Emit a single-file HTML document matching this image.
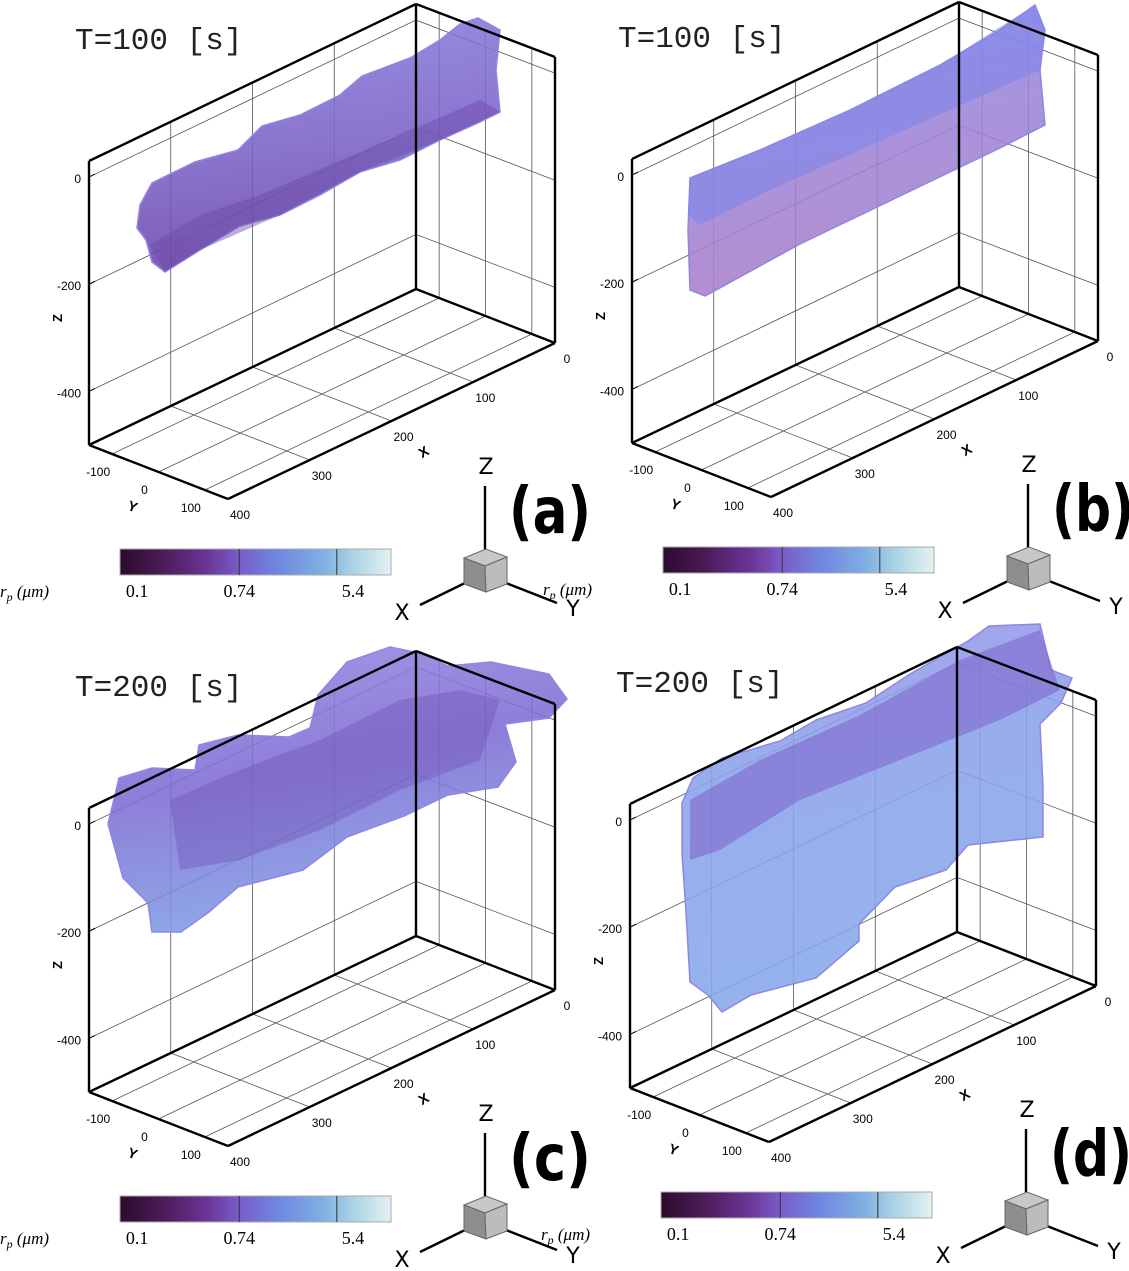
<!DOCTYPE html>
<html><head><meta charset="utf-8">
<style>
html,body{margin:0;padding:0;background:#fff;}
svg{display:block;font-family:"Liberation Sans","DejaVu Sans",sans-serif;}
</style></head>
<body>
<svg id="fig" width="1129" height="1271" viewBox="0 0 1129 1271" xmlns="http://www.w3.org/2000/svg">
<defs>
<linearGradient id="cbar" x1="0" x2="1" y1="0" y2="0">
<stop offset="0" stop-color="#2b0c2c"/>
<stop offset="0.15" stop-color="#4a1a55"/>
<stop offset="0.32" stop-color="#6a3596"/>
<stop offset="0.44" stop-color="#7a5cc8"/>
<stop offset="0.58" stop-color="#6f86e0"/>
<stop offset="0.75" stop-color="#7fb0e2"/>
<stop offset="0.86" stop-color="#aad3e4"/>
<stop offset="1" stop-color="#e4f2f2"/>
</linearGradient>
<linearGradient id="tubeA" x1="0" y1="0" x2="0.15" y2="1">
<stop offset="0" stop-color="#8a7ee0"/>
<stop offset="0.55" stop-color="#7a62c8"/>
<stop offset="1" stop-color="#6a44a8"/>
</linearGradient>
<linearGradient id="slabB" x1="0" y1="0" x2="0.2" y2="1">
<stop offset="0" stop-color="#8890ea"/>
<stop offset="0.35" stop-color="#9a86dc"/>
<stop offset="1" stop-color="#a87fc8"/>
</linearGradient>
<linearGradient id="blobC" x1="0" y1="0" x2="0.3" y2="1">
<stop offset="0" stop-color="#9a8ae6"/>
<stop offset="0.5" stop-color="#7e6cd2"/>
<stop offset="1" stop-color="#7f9ee6"/>
</linearGradient>
<linearGradient id="blobD" x1="0" y1="0" x2="0.2" y2="1">
<stop offset="0" stop-color="#9a94e8"/>
<stop offset="0.4" stop-color="#8aa2ea"/>
<stop offset="1" stop-color="#86a8ea"/>
</linearGradient>
</defs>
</svg>
<script>
// ---- data ----
const xTicks = [0, 100, 200, 300, 400];
const yTicks = [-100, 0, 100];
const zTicks = [0, -200, -400];
const xRange = [0, 400];
const yRange = [-150, 150];
const zRange = [-500, 30];
const cbarLabels = ["0.1", "0.74", "5.4"];
const cbarFrac = [0.03, 0.44, 0.86];
const cbarDividers = [0.44, 0.80];
const panelNames = ["a", "b", "c", "d"];
const panelTimes = ["T=100 [s]", "T=100 [s]", "T=200 [s]", "T=200 [s]"];
const panelOffsetX = [0, 543, 0, 541];
const panelOffsetY = [0, -2, 647, 643];

const NS = "http://www.w3.org/2000/svg";
const svg = document.getElementById("fig");
function el(tag, attrs, parent) {
  const e = document.createElementNS(NS, tag);
  for (const k in attrs) e.setAttribute(k, attrs[k]);
  (parent || svg).appendChild(e);
  return e;
}
const P = {A:[89,161],B:[416,4],C:[555,57],D:[89,445],E:[416,289],F:[555,343],G:[228,499]};
function lerp(p, q, t) { return [p[0] + (q[0]-p[0])*t, p[1] + (q[1]-p[1])*t]; }
const zScale = (P.D[1]-P.A[1])/(zRange[1]-zRange[0]);
function zY(z) { return (zRange[1]-z)*zScale; }
function xT(x) { return (x - xRange[0])/(xRange[1]-xRange[0]); }
function yT(y) { return (y - yRange[0])/(yRange[1]-yRange[0]); }

const blobs = [
  {fill:"url(#tubeA)", pts:[[140,205],[152,183],[195,162],[238,150],[262,126],[300,115],[340,95],[362,76],[410,58],[440,40],[460,24],[478,18],[500,30],[496,70],[500,112],[480,122],[440,140],[400,160],[360,172],[320,195],[280,215],[240,226],[200,250],[165,272],[152,262],[146,240],[137,228]]},
  {fill:"url(#slabB)", pts:[[690,178],[760,150],[850,110],[940,65],[1000,30],[1035,5],[1045,30],[1040,70],[1045,125],[1000,148],[900,196],[800,244],[705,296],[690,290],[688,230]]},
  {fill:"url(#blobC)", pts:[[108,824],[119,778],[152,768],[195,770],[199,745],[238,735],[289,737],[310,728],[318,695],[347,662],[390,647],[419,653],[448,666],[491,662],[549,674],[567,699],[549,718],[505,724],[516,762],[498,787],[448,795],[404,816],[347,837],[303,870],[238,887],[209,912],[181,932],[152,932],[148,903],[123,878]]},
  {fill:"url(#blobD)", pts:[[682,803],[693,778],[722,758],[780,741],[816,720],[866,703],[910,674],[968,641],[989,626],[1040,624],[1051,670],[1072,678],[1061,703],[1040,724],[1043,787],[1043,837],[968,845],[946,870],[895,887],[859,924],[859,941],[816,978],[751,995],[722,1012],[708,995],[690,982],[686,912],[682,853]]}
];
const overlays = [
  {fill:"#6a4aa8", op:0.45, pts:[[150,245],[200,215],[260,195],[330,165],[400,135],[480,100],[500,112],[440,140],[360,172],[280,215],[200,250],[165,272]]},
  {fill:"#7f86ea", op:0.6, pts:[[690,178],[760,150],[850,110],[940,65],[1035,5],[1045,30],[1040,70],[950,110],[860,150],[770,190],[700,225],[688,215]]},
  {fill:"#6a4ab0", op:0.35, pts:[[170,800],[240,770],[320,740],[400,700],[460,690],[500,700],[480,760],[400,790],[320,830],[240,860],[180,870]]},
  {fill:"#7e60cc", op:0.55, pts:[[690,800],[760,760],[860,715],[960,660],[1040,630],[1060,690],[1000,720],[900,760],[800,800],[720,850],[690,860]]}
];

panelNames.forEach((name, i) => {
  const g = el("g", {transform:`translate(${panelOffsetX[i]},${panelOffsetY[i]})`});
  
  
  const thin = {stroke:"#555", "stroke-width":0.8, fill:"none"};
  xTicks.slice(1, -1).forEach(x => {
    const t = xT(x);
    const top = lerp(P.B, P.A, t), bot = lerp(P.E, P.D, t);
    const gl = el("line", Object.assign({x1:top[0],y1:top[1],x2:bot[0],y2:bot[1]}, thin), g);
    
    
    const fb = lerp(P.F, P.G, t);
    const gf = el("line", Object.assign({x1:bot[0],y1:bot[1],x2:fb[0],y2:fb[1]}, thin), g);
    
    
  });
  yTicks.forEach(y => {
    const t = yT(y);
    const top = lerp(P.B, P.C, t), bot = lerp(P.E, P.F, t);
    const gl = el("line", Object.assign({x1:top[0],y1:top[1],x2:bot[0],y2:bot[1]}, thin), g);
    
    
    const fl = lerp(P.D, P.G, t);
    const gf = el("line", Object.assign({x1:bot[0],y1:bot[1],x2:fl[0],y2:fl[1]}, thin), g);
    
    
  });
  zTicks.forEach(z => {
    const dy = zY(z);
    const gl = el("polyline", Object.assign({points:`${P.A[0]},${P.A[1]+dy} ${P.B[0]},${P.B[1]+dy} ${P.C[0]},${P.C[1]+dy}`}, thin), g);
    
    
    const lb = el("text", {x:P.A[0]-8, y:P.A[1]+dy+6, "text-anchor":"end", "font-size":12, fill:"#000"}, g);
    lb.textContent = z;
    
    
    el("line", {x1:P.A[0], y1:P.A[1]+dy, x2:P.A[0]+6, y2:P.A[1]+dy-3, stroke:"#000"}, g);
  });
  const b = blobs[i];
  const bp = el("polygon", {points:b.pts.map(p => `${p[0]-panelOffsetX[i]},${p[1]-panelOffsetY[i]}`).join(" "), fill:b.fill, "fill-opacity":0.88, stroke:"#8f86e4", "stroke-width":1.5}, g);
  
  
  const o = overlays[i];
  const op = el("polygon", {points:o.pts.map(p => `${p[0]-panelOffsetX[i]},${p[1]-panelOffsetY[i]}`).join(" "), fill:o.fill, "fill-opacity":o.op}, g);
  
  
  const thick = {stroke:"#000", "stroke-width":2.4, fill:"none"};
  [["A","B"],["B","C"],["A","D"],["B","E"],["C","F"],["D","E"],["E","F"],["D","G"],["G","F"]].forEach(([p, q]) => {
    const e = el("line", Object.assign({x1:P[p][0],y1:P[p][1],x2:P[q][0],y2:P[q][1]}, thick), g);
    
    
  });
  xTicks.forEach(x => {
    const p = lerp(P.F, P.G, xT(x));
    const t = el("text", {x:p[0]+12, y:p[1]+20, "text-anchor":"middle", "font-size":12}, g);
    t.textContent = x;
    
    
  });
  yTicks.forEach(y => {
    const p = lerp(P.D, P.G, yT(y));
    const t = el("text", {x:p[0]-14, y:p[1]+22, "text-anchor":"middle", "font-size":12}, g);
    t.textContent = y;
    
    
  });
  const zt = el("text", {x:62, y:318, "font-size":13, "font-weight":"bold", transform:"rotate(-90 62 318)", "text-anchor":"middle"}, g);
  zt.textContent = "Z";
  
  
  const xt = el("text", {x:426, y:456, "font-size":14, "font-weight":"bold", transform:"rotate(-30 426 456)", "text-anchor":"middle"}, g);
  xt.textContent = "X";
  
  
  const yt = el("text", {x:131, y:511, "font-size":14, "font-weight":"bold", transform:"rotate(20 131 511)", "text-anchor":"middle"}, g);
  yt.textContent = "Y";
  
  
  const tt = el("text", {x:75, y:49, "font-size":31, "font-family":"Liberation Mono, monospace", fill:"#222"}, g);
  tt.textContent = panelTimes[i];
  
  
  const cb = el("rect", {x:120, y:549, width:271, height:26, fill:"url(#cbar)", stroke:"#aaa", "stroke-width":1}, g);
  
  
  cbarDividers.forEach(f => el("line", {x1:120+271*f, y1:549, x2:120+271*f, y2:575, stroke:"#333", "stroke-width":1}, g));
  cbarLabels.forEach((l, k) => {
    const t = el("text", {x:120+271*cbarFrac[k]+(k==0?9:0), y:597, "text-anchor":"middle", "font-size":18, "font-family":"Liberation Serif, serif"}, g);
    t.textContent = l;
    
    
  });
  const rp = el("text", {x:0, y:597, "font-size":17, "font-style":"italic", "font-family":"Liberation Serif, serif"}, g);
  rp.innerHTML = 'r<tspan font-size="12" dy="4">p</tspan><tspan dy="-4"> (μm)</tspan>';
  
  
  const tr = el("g", {}, g);
  
  
  el("line", {x1:485, y1:486, x2:485, y2:552, stroke:"#000", "stroke-width":2.4}, tr);
  el("line", {x1:465, y1:583, x2:420, y2:605, stroke:"#000", "stroke-width":2.4}, tr);
  el("line", {x1:506, y1:583, x2:557, y2:603, stroke:"#000", "stroke-width":2.4}, tr);
  el("polygon", {points:"464,558 486,549 507,557 485,566", fill:"#c8c8c8", stroke:"#666"}, tr);
  el("polygon", {points:"464,558 485,566 486,592 464,584", fill:"#8e8e8e", stroke:"#666"}, tr);
  el("polygon", {points:"485,566 507,557 507,584 486,592", fill:"#bcbcbc", stroke:"#666"}, tr);
  [["Z",486,474],["X",402,620],["Y",573,616]].forEach(([s, x, y]) => {
    const t = el("text", {x:x, y:y, "text-anchor":"middle", "font-size":22, "font-family":"DejaVu Sans, sans-serif"}, tr);
    t.textContent = s;
  });
  const pl = el("text", {x:509, y:533, "font-size":64, "font-weight":"bold", "font-family":"DejaVu Sans, sans-serif", textLength:82, lengthAdjust:"spacingAndGlyphs"}, g);
  pl.textContent = "(" + name + ")";
  
  
});
</script>
</body></html>
